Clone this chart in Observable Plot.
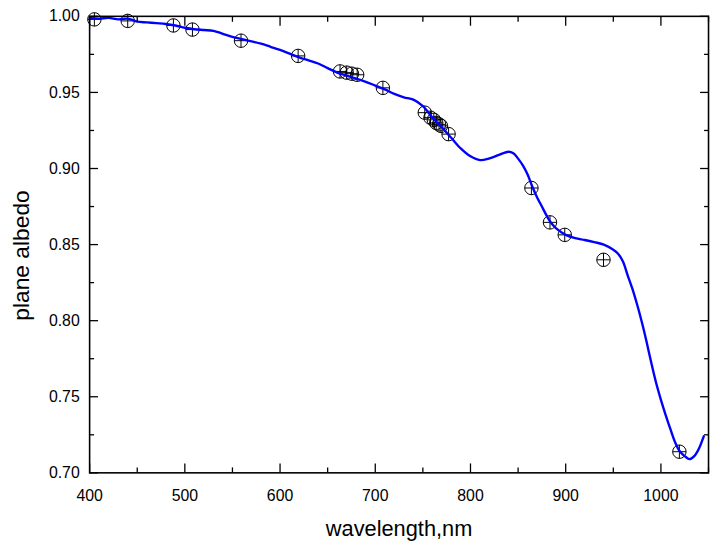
<!DOCTYPE html>
<html><head><meta charset="utf-8">
<script src="https://cdn.jsdelivr.net/npm/d3@7"></script>
<script src="https://cdn.jsdelivr.net/npm/@observablehq/plot@0.6"></script>
<style>html,body{margin:0;padding:0;overflow:hidden;background:#fff}</style>
</head><body><div id="chart"></div>
<script>
// Spectrum (blue line)
const wavelength = [400,410,420,430,440,450,460,470,480,490,500,510,520,530,540,550,560,570,580,590,600,610,620,630,640,650,660,670,680,690,700,710,720,730,740,750,760,770,780,790,800,810,820,830,840,845,850,855,860,865,870,875,880,885,890,900,910,920,930,940,950,955,960,965,970,975,980,985,990,995,1000,1005,1010,1015,1020,1025,1030,1035,1040,1045];
const albedo = [0.999,0.9985,0.999,0.998,0.9985,0.9965,0.996,0.9955,0.995,0.994,0.9925,0.9915,0.991,0.9905,0.9885,0.9865,0.985,0.9835,0.982,0.980,0.978,0.9755,0.973,0.971,0.969,0.966,0.963,0.961,0.959,0.957,0.9545,0.952,0.949,0.9468,0.9453,0.941,0.9335,0.927,0.920,0.913,0.908,0.9055,0.9067,0.909,0.911,0.910,0.9065,0.902,0.896,0.888,0.881,0.875,0.869,0.864,0.8607,0.8564,0.8542,0.853,0.8516,0.850,0.8466,0.844,0.839,0.830,0.821,0.8106,0.799,0.786,0.772,0.759,0.748,0.738,0.7287,0.720,0.714,0.711,0.709,0.711,0.716,0.724];
// Measurements (circled crosses)
const obsWavelength = [405,440,488,508,559,619,663,670,675.5,681,708,752,758,761.5,764,767,769,777,864,883.5,899,939.7,1019.4];
const obsAlbedo = [0.998,0.997,0.994,0.9913,0.984,0.974,0.9638,0.963,0.9623,0.9616,0.953,0.9367,0.9334,0.932,0.930,0.929,0.928,0.9226,0.8872,0.8646,0.8564,0.840,0.7139];
// Ticks
const xMajorTicks = [400,500,600,700,800,900,1000];
const xMinorTicks = [450,550,650,750,850,950,1050];
const yMajorTicks = [0.70,0.75,0.80,0.85,0.90,0.95,1.00];
const yMinorTicks = [0.725,0.775,0.825,0.875,0.925,0.975];
const xTitle = "wavelength,nm";
const yTitle = "plane albedo";

const spectrum = wavelength.map((w, i) => ({w, a: albedo[i]}));
const obs = obsWavelength.map((w, i) => ({w, a: obsAlbedo[i]}));

const crossCircle = {
  draw(ctx, size) {
    const r = Math.sqrt(size / Math.PI);
    ctx.moveTo(r, 0);
    ctx.arc(0, 0, r, 0, 2 * Math.PI);
    ctx.moveTo(-r, 0); ctx.lineTo(r, 0);
    ctx.moveTo(0, -r); ctx.lineTo(0, r);
  }
};

const fmtY = d3.format(".2f");
const fmtX = d3.format("d");
const chart = Plot.plot({
  width: 718, height: 548,
  marginLeft: 90, marginRight: 3, marginTop: 16, marginBottom: 71,
  style: {fontFamily: "'Liberation Sans', Arial, sans-serif", fontSize: "16px", background: "#fff", color: "#000"},
  x: {domain: [400, 1050]},
  y: {domain: [0.70, 1.00]},
  marks: [
    Plot.dot(obs, {x: "w", y: "a", r: 6.8, symbol: crossCircle, stroke: "#000", fill: "none", strokeWidth: 1}),
    Plot.line(spectrum, {x: "w", y: "a", stroke: "#0000ff", strokeWidth: 2.4, curve: "catmull-rom"}),
    Plot.frame({stroke: "#000", strokeWidth: 1.6}),
    Plot.axisX(xMajorTicks, {anchor: "bottom", tickSize: -9, tickPadding: 26, tickFormat: fmtX, strokeWidth: 1.3, fontSize: 16, label: null}),
    Plot.axisX(xMinorTicks, {anchor: "bottom", tickSize: -5, strokeWidth: 1.3, fill: "none", label: null}),
    Plot.axisX(xMajorTicks, {anchor: "top", tickSize: -9, strokeWidth: 1.3, fill: "none", label: null}),
    Plot.axisX(xMinorTicks, {anchor: "top", tickSize: -5, strokeWidth: 1.3, fill: "none", label: null}),
    Plot.axisY(yMajorTicks, {anchor: "left", tickSize: -9, tickPadding: 19, tickFormat: fmtY, strokeWidth: 1.3, fontSize: 16, label: null}),
    Plot.axisY(yMinorTicks, {anchor: "left", tickSize: -5, strokeWidth: 1.3, fill: "none", label: null}),
    Plot.axisY(yMajorTicks, {anchor: "right", tickSize: -9, strokeWidth: 1.3, fill: "none", label: null}),
    Plot.axisY(yMinorTicks, {anchor: "right", tickSize: -5, strokeWidth: 1.3, fill: "none", label: null}),
    Plot.text([xTitle], {frameAnchor: "bottom", dy: 48, lineAnchor: "top", textAnchor: "middle", text: d => d, fontSize: 22, fill: "#000"}),
    Plot.text([yTitle], {frameAnchor: "left", dx: -78, dy: 11, rotate: -90, lineAnchor: "top", textAnchor: "middle", text: d => d, fontSize: 23, fill: "#000"})
  ]
});
document.getElementById("chart").appendChild(chart);
</script>
</body></html>
